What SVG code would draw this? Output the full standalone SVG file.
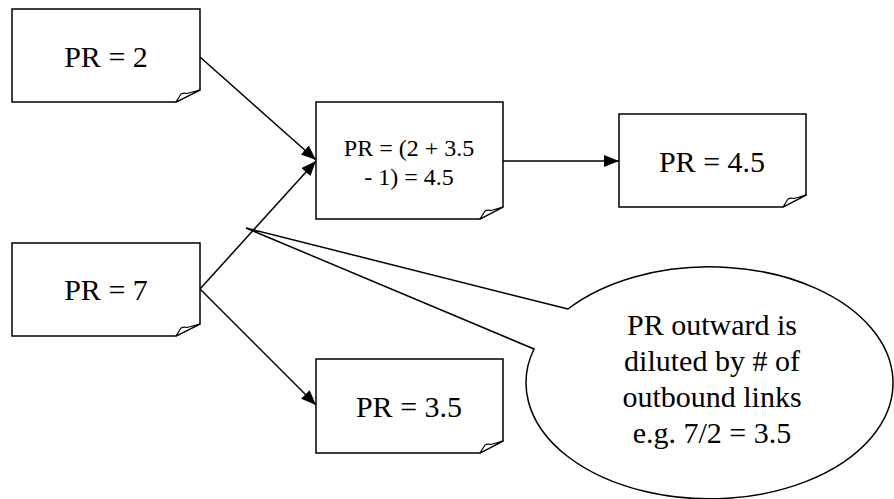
<svg xmlns="http://www.w3.org/2000/svg" width="894" height="499" viewBox="0 0 894 499">
<style>
.box{fill:#fff;stroke:#000;stroke-width:1.5;stroke-linejoin:miter}
.curl{fill:#fff;stroke:#000;stroke-width:1.2;stroke-linejoin:round}
text{font-family:'Liberation Serif','Times New Roman','DejaVu Serif',serif;fill:#000;text-anchor:middle}
.big{font-size:30px}
.mid{font-size:24px}
.edge{stroke:#000;stroke-width:1.5;fill:none}
</style>
<defs>
<marker id="ah" markerUnits="userSpaceOnUse" markerWidth="16" markerHeight="12" refX="15" refY="6" orient="auto">
<path d="M0,0 L15,6 L0,12 Z" fill="#000"/>
</marker>
</defs>
<rect width="894" height="499" fill="#fff"/>
<g id="callout">
<path d="M568,309 L246,228 L534,349 A183.5,116 0 1 0 568,309 Z" fill="#fff" stroke="#000" stroke-width="1.5" stroke-linejoin="miter"/>
<text class="big" font-family="Liberation Serif, serif" x="712" y="335">PR outward is</text>
<text class="big" font-family="Liberation Serif, serif" x="712" y="371">diluted by # of</text>
<text class="big" font-family="Liberation Serif, serif" x="712" y="407">outbound links</text>
<text class="big" font-family="Liberation Serif, serif" x="712" y="443">e.g. 7/2 = 3.5</text>
</g>
<g id="connectors">
<line class="edge" x1="200" y1="57" x2="316" y2="160" marker-end="url(#ah)"/>
<line class="edge" x1="200" y1="289" x2="316" y2="161" marker-end="url(#ah)"/>
<line class="edge" x1="200" y1="289" x2="316" y2="405" marker-end="url(#ah)"/>
<line class="edge" x1="503" y1="161" x2="619" y2="161" marker-end="url(#ah)"/>
</g>
<g id="pr2">
<path class="box" d="M12,9 H200 V90 L176,102 H12 Z"/>
<path class="curl" d="M176,102 L181,94 Q184,92.5 187,93.5 L200,90 Z"/>
<text class="big" x="106" y="67">PR = 2</text>
</g>
<g id="pr7">
<path class="box" d="M12,243 H200 V324 L176,336 H12 Z"/>
<path class="curl" d="M176,336 L181,328 Q184,326.5 187,327.5 L200,324 Z"/>
<text class="big" x="106" y="300">PR = 7</text>
</g>
<g id="prsum">
<path class="box" d="M316,102 H503 V207 L480,219 H316 Z"/>
<path class="curl" d="M480,219 L485,211 Q488,209.5 491,210.5 L503,207 Z"/>
<text class="mid" x="409" y="156">PR = (2 + 3.5</text>
<text class="mid" x="409" y="185">- 1) = 4.5</text>
</g>
<g id="pr45">
<path class="box" d="M619,114 H806 V195 L783,207 H619 Z"/>
<path class="curl" d="M783,207 L788,199 Q791,197.5 794,198.5 L806,195 Z"/>
<text class="big" x="712" y="172">PR = 4.5</text>
</g>
<g id="pr35">
<path class="box" d="M316,359 H503 V441 L480,453 H316 Z"/>
<path class="curl" d="M480,453 L485,445 Q488,443.5 491,444.5 L503,441 Z"/>
<text class="big" x="409" y="417">PR = 3.5</text>
</g>
</svg>
